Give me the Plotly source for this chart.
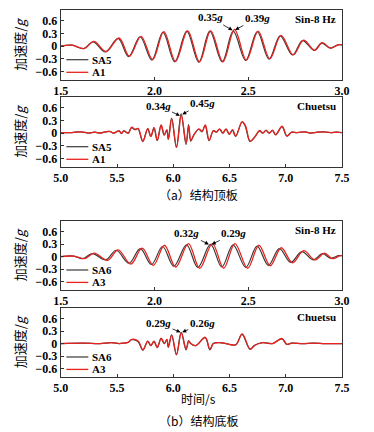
import plotly.graph_objects as go

# ---------------- data ----------------
# Panel (a) top: Sin-8 Hz, structure top plate
sin_top_t_A1 = [1.50, 1.56, 1.625, 1.677, 1.742, 1.811, 1.866, 1.928, 1.990, 2.050, 2.112, 2.177,
                2.240, 2.300, 2.365, 2.427, 2.490, 2.553, 2.615, 2.675, 2.740, 2.795, 2.855, 2.895,
                2.940, 2.980, 3.00]
sin_top_v_A1 = [0.00, 0.02, -0.06, 0.11, -0.13, 0.19, -0.24, 0.23, -0.32, 0.34, -0.36, 0.36,
                -0.37, 0.36, -0.37, 0.39, -0.33, 0.35, -0.30, 0.25, -0.21, 0.14, -0.10, 0.08,
                -0.05, 0.03, 0.03]
sin_top_t_SA5 = [1.50, 1.56, 1.622, 1.673, 1.738, 1.806, 1.862, 1.923, 1.986, 2.045, 2.108, 2.172,
                 2.236, 2.295, 2.361, 2.420, 2.486, 2.548, 2.611, 2.670, 2.736, 2.790, 2.851, 2.891,
                 2.937, 2.978, 3.00]
sin_top_v_SA5 = [0.00, 0.02, -0.06, 0.10, -0.14, 0.18, -0.25, 0.22, -0.33, 0.33, -0.37, 0.35,
                 -0.38, 0.35, -0.37, 0.35, -0.34, 0.34, -0.31, 0.24, -0.21, 0.13, -0.10, 0.07,
                 -0.05, 0.03, 0.03]

# Panel (a) bottom: Chuetsu, structure top plate
chu_top_t_A1 = [5.00, 5.10, 5.176, 5.25, 5.30, 5.35, 5.432, 5.47, 5.518, 5.54, 5.560, 5.60,
                5.631, 5.660, 5.688, 5.731, 5.774, 5.802, 5.830, 5.859, 5.893, 5.921, 5.944,
                5.958, 5.987, 6.030, 6.072, 6.115, 6.138, 6.157, 6.186, 6.229, 6.257, 6.285,
                6.320, 6.357, 6.385, 6.413, 6.442, 6.470, 6.499, 6.527, 6.556, 6.613, 6.641,
                6.684, 6.726, 6.769, 6.797, 6.826, 6.854, 6.883, 6.911, 6.968, 7.011, 7.053,
                7.10, 7.167, 7.22, 7.28, 7.338, 7.40, 7.45, 7.50]
chu_top_v_A1 = [0.01, 0.01, 0.03, 0.00, 0.02, 0.00, 0.04, 0.00, 0.05, -0.01, 0.05, 0.00,
                0.14, 0.09, 0.11, -0.19, 0.11, -0.08, 0.13, -0.17, 0.19, -0.04, 0.08,
                -0.14, 0.34, -0.33, 0.42, -0.23, 0.17, -0.17, -0.03, 0.10, 0.04, 0.19,
                -0.17, 0.06, 0.02, 0.10, 0.00, 0.10, -0.03, 0.08, -0.07, 0.27, 0.18,
                -0.19, -0.09, 0.06, 0.00, 0.07, 0.00, 0.07, -0.04, 0.16, -0.07, 0.02,
                0.01, 0.03, 0.00, 0.02, 0.03, 0.01, 0.02, 0.01]
chu_top_t_SA5 = [5.00, 5.10, 5.176, 5.25, 5.30, 5.35, 5.432, 5.47, 5.518, 5.54, 5.560, 5.60,
                 5.629, 5.658, 5.686, 5.729, 5.772, 5.800, 5.828, 5.857, 5.891, 5.919, 5.942,
                 5.956, 5.985, 6.028, 6.070, 6.113, 6.136, 6.155, 6.184, 6.227, 6.255, 6.283,
                 6.318, 6.355, 6.383, 6.411, 6.440, 6.468, 6.497, 6.525, 6.554, 6.611, 6.639,
                 6.682, 6.724, 6.767, 6.795, 6.824, 6.852, 6.881, 6.909, 6.966, 7.009, 7.051,
                 7.10, 7.167, 7.22, 7.28, 7.338, 7.40, 7.45, 7.50]
chu_top_v_SA5 = [0.01, 0.01, 0.03, 0.00, 0.02, 0.00, 0.04, 0.00, 0.05, -0.01, 0.05, 0.00,
                 0.13, 0.08, 0.10, -0.20, 0.10, -0.08, 0.12, -0.18, 0.18, -0.05, 0.07,
                 -0.15, 0.35, -0.34, 0.45, -0.27, 0.20, -0.19, -0.04, 0.09, 0.03, 0.18,
                 -0.18, 0.05, 0.02, 0.09, 0.00, 0.09, -0.03, 0.07, -0.08, 0.26, 0.17,
                 -0.20, -0.09, 0.05, 0.00, 0.06, 0.00, 0.06, -0.04, 0.15, -0.07, 0.02,
                 0.01, 0.03, 0.00, 0.02, 0.03, 0.01, 0.02, 0.01]

# Panel (b) top: Sin-8 Hz, structure bottom plate
sin_bot_t_A3 = [1.50, 1.57, 1.627, 1.678, 1.750, 1.806, 1.874, 1.934, 1.994, 2.053, 2.113, 2.181,
                2.241, 2.309, 2.369, 2.429, 2.497, 2.557, 2.617, 2.676, 2.736, 2.796, 2.856,
                2.907, 2.949, 2.990, 3.00]
sin_bot_v_A3 = [0.00, 0.01, -0.05, 0.08, -0.09, 0.16, -0.18, 0.20, -0.21, 0.27, -0.25, 0.31,
                -0.28, 0.31, -0.28, 0.31, -0.28, 0.27, -0.22, 0.21, -0.15, 0.14, -0.08,
                0.08, -0.05, 0.02, 0.02]
sin_bot_t_SA6 = [1.50, 1.57, 1.617, 1.668, 1.740, 1.796, 1.864, 1.924, 1.984, 2.043, 2.103, 2.171,
                 2.231, 2.299, 2.359, 2.419, 2.487, 2.547, 2.607, 2.666, 2.726, 2.786, 2.846,
                 2.897, 2.939, 2.982, 3.00]
sin_bot_v_SA6 = [0.00, 0.01, -0.05, 0.07, -0.08, 0.15, -0.16, 0.19, -0.19, 0.24, -0.23, 0.28,
                 -0.26, 0.29, -0.25, 0.28, -0.26, 0.25, -0.21, 0.19, -0.14, 0.12, -0.08,
                 0.07, -0.04, 0.02, 0.02]

# Panel (b) bottom: Chuetsu, structure bottom plate
chu_bot_t_A3 = [5.00, 5.20, 5.35, 5.45, 5.52, 5.560, 5.60, 5.631, 5.688, 5.731, 5.774, 5.802,
                5.830, 5.859, 5.893, 5.921, 5.944, 5.958, 5.987, 6.030, 6.072, 6.115, 6.138,
                6.157, 6.200, 6.285, 6.327, 6.357, 6.413, 6.470, 6.556, 6.613, 6.684, 6.726,
                6.797, 6.883, 6.968, 7.011, 7.053, 7.15, 7.25, 7.35, 7.50]
chu_bot_v_A3 = [0.00, 0.01, 0.00, 0.02, 0.00, 0.01, 0.03, 0.10, 0.06, -0.15, 0.06, -0.05,
                0.06, -0.09, 0.13, 0.00, 0.10, -0.08, 0.20, -0.26, 0.26, -0.13, 0.05,
                0.00, -0.05, 0.15, -0.14, 0.00, 0.02, 0.00, -0.03, 0.23, -0.13, -0.04,
                0.02, 0.00, 0.12, -0.02, 0.01, 0.00, 0.01, 0.00, 0.00]
chu_bot_t_SA6 = [5.00, 5.20, 5.35, 5.45, 5.52, 5.560, 5.60, 5.629, 5.686, 5.729, 5.772, 5.800,
                 5.828, 5.857, 5.891, 5.919, 5.942, 5.956, 5.985, 6.028, 6.070, 6.113, 6.136,
                 6.155, 6.198, 6.283, 6.325, 6.355, 6.411, 6.468, 6.554, 6.611, 6.682, 6.724,
                 6.795, 6.881, 6.966, 7.009, 7.051, 7.15, 7.25, 7.35, 7.50]
chu_bot_v_SA6 = [0.00, 0.01, 0.00, 0.02, 0.00, 0.01, 0.03, 0.09, 0.05, -0.16, 0.05, -0.05,
                 0.05, -0.10, 0.12, 0.00, 0.09, -0.09, 0.21, -0.27, 0.27, -0.15, 0.07,
                 0.00, -0.05, 0.14, -0.15, 0.00, 0.02, 0.00, -0.03, 0.22, -0.14, -0.04,
                 0.02, 0.00, 0.11, -0.02, 0.01, 0.00, 0.01, 0.00, 0.00]

y_ticks = [-0.6, -0.3, 0, 0.3, 0.6]
y_tick_text = ["−0.6", "−0.3", "0", "0.3", "0.6"]
sin_x_ticks = [1.5, 2.0, 2.5, 3.0]
chu_x_ticks = [5.0, 5.5, 6.0, 6.5, 7.0, 7.5]

panel_titles = ["Sin-8 Hz", "Chuetsu", "Sin-8 Hz", "Chuetsu"]
black_names = ["SA5", "SA5", "SA6", "SA6"]
red_names = ["A1", "A1", "A3", "A3"]
peak_labels = [("0.35", "0.39"), ("0.34", "0.45"), ("0.32", "0.29"), ("0.29", "0.26")]
captions = ["（a）结构顶板", "（b）结构底板"]
x_title = "时间/s"
y_title = "加速度/<i>g</i>"

# ---------------- figure ----------------
W, H = 374, 432
SERIF = "Liberation Serif"
CJK = "Noto Sans CJK SC"
BLACK = "#3a3a3a"
RED = "#e8231f"

panel_px = [(10, 80), (97, 167), (221, 290), (308, 377)]
xdom = [56 / W, 349 / W]

series = [
    (sin_top_t_SA5, sin_top_v_SA5, sin_top_t_A1, sin_top_v_A1, [1.5, 3.0], sin_x_ticks),
    (chu_top_t_SA5, chu_top_v_SA5, chu_top_t_A1, chu_top_v_A1, [5.0, 7.5], chu_x_ticks),
    (sin_bot_t_SA6, sin_bot_v_SA6, sin_bot_t_A3, sin_bot_v_A3, [1.5, 3.0], sin_x_ticks),
    (chu_bot_t_SA6, chu_bot_v_SA6, chu_bot_t_A3, chu_bot_v_A3, [5.0, 7.5], chu_x_ticks),
]

# arrow geometry: (tip x, tip y, ax, ay) for left and right labels
arrows = [
    ((2.416, 0.37, -22, -13), (2.430, 0.38, 22, -12)),
    ((6.060, 0.41, -22, -10), (6.080, 0.44, 20, -11)),
    ((2.290, 0.29, -22, -11), (2.305, 0.29, 22, -11)),
    ((6.065, 0.27, -22, -9), (6.080, 0.27, 20, -9)),
]

fig = go.Figure()
layout = dict(
    width=W, height=H, margin=dict(l=0, r=0, t=0, b=0),
    paper_bgcolor="white", plot_bgcolor="white", showlegend=False,
    font=dict(family=SERIF, size=12, color="black"),
)
annotations = []
shapes = []

for i, ((bt, bv, rt, rv, xr, xt), (top, bot)) in enumerate(zip(series, panel_px)):
    sfx = "" if i == 0 else str(i + 1)
    xa, ya = "x" + sfx, "y" + sfx
    fig.add_trace(go.Scatter(x=bt, y=bv, mode="lines", name=black_names[i],
                             line=dict(color=BLACK, width=1.2, shape="spline", smoothing=1.0),
                             xaxis=xa, yaxis=ya))
    fig.add_trace(go.Scatter(x=rt, y=rv, mode="lines", name=red_names[i],
                             line=dict(color=RED, width=1.3, shape="spline", smoothing=1.0),
                             xaxis=xa, yaxis=ya))
    ydom = [1 - bot / H, 1 - top / H]
    layout["xaxis" + sfx] = dict(
        domain=xdom, anchor=ya, range=xr, tickvals=xt, tickformat=".1f",
        ticks="inside", ticklen=3, tickcolor="#333", showline=True, mirror=True,
        linecolor="#333", linewidth=1, showgrid=False, zeroline=False,
        tickfont=dict(family=SERIF, size=12, weight=700), fixedrange=True,
    )
    ydict = dict(
        domain=ydom, anchor=xa, range=[-0.8, 0.85], tickvals=y_ticks, ticktext=y_tick_text,
        ticks="inside", ticklen=3, tickcolor="#333", showline=True, mirror=True,
        linecolor="#333", linewidth=1, showgrid=False, zeroline=False,
        tickfont=dict(family=SERIF, size=12, weight=700), fixedrange=True,
        title=dict(text=y_title, font=dict(family=CJK, size=13), standoff=6),
    )
    layout["yaxis" + sfx] = ydict
    # panel title
    annotations.append(dict(xref=xa + " domain", yref=ya + " domain", x=0.985, y=0.87,
                            xanchor="right", yanchor="middle", showarrow=False,
                            text=panel_titles[i],
                            font=dict(family=SERIF, size=11, weight=700)))
    # manual legend
    for k, (nm, col, yy) in enumerate([(black_names[i], BLACK, 0.29), (red_names[i], RED, 0.11)]):
        shapes.append(dict(type="line", xref=xa + " domain", yref=ya + " domain",
                           x0=0.02, x1=0.098, y0=yy, y1=yy,
                           line=dict(color=col, width=1.3 if k else 1.2)))
        annotations.append(dict(xref=xa + " domain", yref=ya + " domain", x=0.104, y=yy,
                                xanchor="left", yanchor="middle", showarrow=False, text=nm,
                                font=dict(family=SERIF, size=11, weight=700)))
    # peak labels with arrows
    for (tx, ty, axp, ayp), lab in zip(arrows[i], peak_labels[i]):
        annotations.append(dict(xref=xa, yref=ya, x=tx, y=ty, ax=axp, ay=ayp,
                                text=lab + "<i>g</i>", showarrow=True, arrowhead=2,
                                arrowsize=1, arrowwidth=0.8, arrowcolor="black",
                                font=dict(family=SERIF, size=11, weight=700)))

# captions and x title
for txt, ypx in [(captions[0], 195), (x_title, 398), (captions[1], 420)]:
    annotations.append(dict(xref="paper", yref="paper", x=200 / W, y=1 - ypx / H,
                            xanchor="center", yanchor="middle", showarrow=False,
                            text=txt, font=dict(family=CJK, size=12)))

layout["annotations"] = annotations
layout["shapes"] = shapes
fig.update_layout(**layout)
fig.write_html("out.html", config={"displayModeBar": False},
               post_script="document.body.style.margin='0';document.body.style.overflow='hidden';")
